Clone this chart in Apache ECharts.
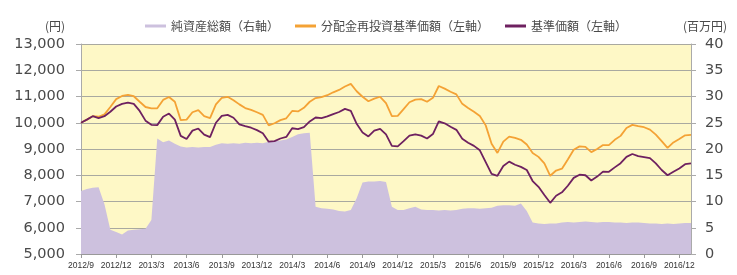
<!DOCTYPE html>
<html>
<head>
<meta charset="utf-8">
<script src="https://cdn.jsdelivr.net/npm/echarts@6/dist/echarts.min.js"></script>
<style>
  html, body { margin: 0; padding: 0; background: #fff; }
  #chart { width: 737px; height: 275px; }
</style>
</head>
<body>
<div id="chart"></div>
<script>
// 半月ごとの日付 (2012/9 〜 2017/1)
var startYear = 2012, startMonth = 9
var categories = []
for (var k = 0; k < 105; k++) {
  var m = startMonth - 1 + Math.floor(k / 2)
  var y = startYear + Math.floor(m / 12)
  categories.push(y + '/' + (m % 12 + 1) + '/' + (k % 2 === 0 ? 1 : 16))
}

// 基準価額(左軸) 円
var navValues = [
  10000, 10120, 10250, 10180, 10250, 10420, 10620, 10720, 10770, 10720,
  10450, 10080, 9920, 9910, 10230, 10350, 10120, 9500, 9380, 9700,
  9780, 9550, 9450, 10000, 10260, 10300, 10190, 9940, 9870, 9810,
  9720, 9600, 9280, 9300, 9400, 9460, 9790, 9760, 9830, 10050,
  10200, 10180, 10240, 10330, 10410, 10530, 10450, 9960, 9630, 9480,
  9700, 9770, 9560, 9120, 9100, 9300, 9510, 9560, 9510, 9400,
  9570, 10050, 9980, 9850, 9730, 9390, 9240, 9120, 8950, 8500,
  8050, 7980, 8350, 8520, 8400, 8320, 8200, 7780, 7560, 7250,
  6950, 7220, 7350, 7600, 7900, 8020, 8000, 7800, 7950, 8140,
  8130, 8300, 8460, 8700, 8810, 8730, 8690, 8650, 8450, 8200,
  8000, 8130, 8260, 8420, 8450
]

// 分配金再投資基準価額(左軸) 円
var reinvValues = [
  10000, 10120, 10250, 10230, 10320, 10600, 10900, 11020, 11060, 11010,
  10800, 10600, 10550, 10550, 10870, 10980, 10800, 10100, 10120, 10400,
  10480, 10250, 10180, 10700, 10950, 10990, 10860, 10700, 10560, 10490,
  10400, 10300, 9900, 9980, 10100, 10170, 10450, 10430, 10570, 10800,
  10940, 10980, 11050, 11160, 11250, 11380, 11480, 11200, 10990, 10820,
  10920, 10990, 10750, 10250, 10260, 10520, 10780, 10880, 10900, 10800,
  10950, 11400, 11300, 11180, 11080, 10720, 10560, 10420, 10260, 9900,
  9200, 8850, 9280, 9470, 9420, 9350, 9170, 8850, 8700, 8450,
  7980, 8180, 8250, 8600, 8970, 9100, 9080, 8880, 9000, 9150,
  9150, 9350, 9500, 9800, 9920, 9870, 9830, 9740, 9550, 9300,
  9040, 9250, 9380, 9520, 9540
]

// 純資産総額(右軸) 百万円
var assetValues = [
  12.0, 12.4, 12.6, 12.7, 9.5, 4.6, 4.2, 3.7, 4.5, 4.6,
  4.7, 4.8, 6.5, 22.0, 21.3, 21.6, 21.0, 20.5, 20.3, 20.4,
  20.3, 20.4, 20.4, 20.8, 21.1, 21.0, 21.1, 21.0, 21.2, 21.1,
  21.2, 21.1, 21.4, 21.5, 21.6, 21.8, 22.3, 22.8, 23.0, 23.1,
  9.0, 8.7, 8.6, 8.5, 8.2, 8.1, 8.4, 10.6, 13.6, 13.8,
  13.8, 13.9, 13.7, 9.0, 8.4, 8.4, 8.7, 9.0, 8.5, 8.4,
  8.4, 8.3, 8.4, 8.3, 8.4, 8.6, 8.7, 8.7, 8.6, 8.7,
  8.8, 9.2, 9.3, 9.3, 9.2, 9.6, 8.2, 6.0, 5.8, 5.7,
  5.8, 5.8, 6.0, 6.1, 6.0, 6.1, 6.2, 6.1, 6.0, 6.1,
  6.1, 6.0, 6.0, 5.9, 6.0, 6.0, 5.9, 5.8, 5.8, 5.7,
  5.8, 5.7, 5.8, 5.9, 5.9
]

var seriesNames = ['純資産総額（右軸）', '分配金再投資基準価額（左軸）', '基準価額（左軸）']
var colors = ['#cdc1de', '#f4a235', '#6e2160']

var labelFont = 'DejaVu Sans'
var textColor = '#4a4a4a'

var chart = echarts.init(document.getElementById('chart'))
var option = {
  animation: false,
  textStyle: { fontFamily: 'Noto Sans CJK JP' },
  legend: {
    left: 140,
    top: 15,
    itemGap: 16,
    itemWidth: 21,
    itemHeight: 3,
    icon: 'rect',
    textStyle: { fontSize: 12, color: textColor, fontFamily: 'Noto Sans CJK JP' },
    data: [
      { name: seriesNames[0], itemStyle: { color: colors[0] } },
      { name: seriesNames[1], itemStyle: { color: colors[1] } },
      { name: seriesNames[2], itemStyle: { color: colors[2] } }
    ]
  },
  grid: {
    left: 81,
    right: 46,
    top: 44,
    bottom: 21,
    show: true,
    backgroundColor: '#fef8c6',
    borderWidth: 0
  },
  xAxis: {
    type: 'category',
    boundaryGap: false,
    data: categories,
    axisLine: { lineStyle: { color: '#999' } },
    axisTick: { show: true, length: 4, interval: 5, lineStyle: { color: '#999' } },
    axisLabel: {
      interval: 5,
      margin: 7,
      fontSize: 8.5,
      fontFamily: 'Liberation Sans',
      color: '#333',
      formatter: function (v) { return v.slice(0, v.lastIndexOf('/')) }
    },
    splitLine: { show: false }
  },
  yAxis: [
    {
      type: 'value',
      min: 5000,
      max: 13000,
      interval: 1000,
      name: '(円)',
      nameLocation: 'end',
      nameGap: 12,
      nameTextStyle: { align: 'right', padding: [0, 16, 0, 0], fontSize: 12, color: textColor, fontFamily: 'Noto Sans CJK JP' },
      axisLine: { show: true, lineStyle: { color: '#aaa' } },
      axisTick: { show: true, length: 5, lineStyle: { color: '#aaa' } },
      axisLabel: {
        margin: 16,
        fontSize: 14.5,
        fontFamily: labelFont,
        color: textColor,
        formatter: function (v) { return v.toLocaleString('en-US') }
      },
      splitLine: { show: true, lineStyle: { color: '#a9a9a0', width: 1 } }
    },
    {
      type: 'value',
      min: 0,
      max: 40,
      interval: 5,
      name: '(百万円)',
      nameLocation: 'end',
      nameGap: 12,
      nameTextStyle: { align: 'left', padding: [0, 0, 0, -8], fontSize: 12, color: textColor, fontFamily: 'Noto Sans CJK JP' },
      axisLine: { show: true, lineStyle: { color: '#aaa' } },
      axisTick: { show: true, length: 5, lineStyle: { color: '#aaa' } },
      axisLabel: { margin: 14, fontSize: 14.5, fontFamily: labelFont, color: textColor },
      splitLine: { show: false }
    }
  ],
  series: [
    {
      name: seriesNames[0],
      type: 'line',
      yAxisIndex: 1,
      data: assetValues,
      showSymbol: false,
      lineStyle: { width: 0 },
      itemStyle: { color: colors[0] },
      areaStyle: { color: colors[0], opacity: 1 },
      z: 1
    },
    {
      name: seriesNames[1],
      type: 'line',
      yAxisIndex: 0,
      data: reinvValues,
      showSymbol: false,
      lineStyle: { width: 1.8, color: colors[1] },
      itemStyle: { color: colors[1] },
      z: 3
    },
    {
      name: seriesNames[2],
      type: 'line',
      yAxisIndex: 0,
      data: navValues,
      showSymbol: false,
      lineStyle: { width: 1.8, color: colors[2] },
      itemStyle: { color: colors[2] },
      z: 4
    }
  ]
}
chart.setOption(option)
</script>
</body>
</html>
